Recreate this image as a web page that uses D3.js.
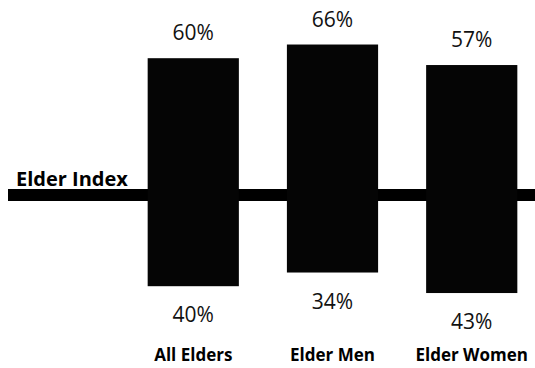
<!DOCTYPE html>
<html>
<head>
<meta charset="utf-8">
<script src="https://cdn.jsdelivr.net/npm/d3@7"></script>
<style>
  html, body { margin: 0; padding: 0; background: #fff; }
  svg { display: block; }
</style>
</head>
<body>
<svg id="chart" width="535" height="368"></svg>
<script>
const categories = ["All Elders", "Elder Men", "Elder Women"];
const aboveValues = [60, 66, 57];
const belowValues = [40, 34, 43];
const aboveLabels = ["60%", "66%", "57%"];
const belowLabels = ["40%", "34%", "43%"];
const baselineLabel = "Elder Index";

const svg = d3.select("#chart");
const W = 535, H = 368;

const x = d3.scaleBand()
  .domain(categories)
  .range([124, 541])
  .paddingInner(0.345)
  .paddingOuter(0.17);

// baseline at y=195, 2.28 px per percent
const y = d3.scaleLinear().domain([-100, 100]).range([195 + 228, 195 - 228]);

// Elder Index line
svg.append("rect")
  .attr("x", 8)
  .attr("y", y(0) - 6)
  .attr("width", W - 8)
  .attr("height", 12)
  .attr("fill", "#000");

svg.append("text")
  .attr("x", 16)
  .attr("y", y(0) - 9)
  .attr("font-family", "'Open Sans', sans-serif")
  .attr("font-weight", 700)
  .attr("font-size", 20)
  .attr("fill", "#000")
  .text(baselineLabel);

const data = categories.map((c, i) => ({
  cat: c, above: aboveValues[i], below: belowValues[i],
  aLabel: aboveLabels[i], bLabel: belowLabels[i]
}));

svg.selectAll("rect.bar")
  .data(data)
  .join("rect")
  .attr("class", "bar")
  .attr("x", d => x(d.cat))
  .attr("width", x.bandwidth())
  .attr("y", d => y(d.above))
  .attr("height", d => y(-d.below) - y(d.above))
  .attr("fill", "#050505");

svg.selectAll("text.top")
  .data(data)
  .join("text")
  .attr("class", "top")
  .attr("x", d => x(d.cat) + x.bandwidth() / 2)
  .attr("y", d => y(d.above) - 18)
  .attr("text-anchor", "middle")
  .attr("font-family", "'Open Sans', sans-serif")
  .attr("font-size", 21)
  .attr("fill", "#111")
  .text(d => d.aLabel);

svg.selectAll("text.bottom")
  .data(data)
  .join("text")
  .attr("class", "bottom")
  .attr("x", d => x(d.cat) + x.bandwidth() / 2)
  .attr("y", d => y(-d.below) + 36)
  .attr("text-anchor", "middle")
  .attr("font-family", "'Open Sans', sans-serif")
  .attr("font-size", 21)
  .attr("fill", "#111")
  .text(d => d.bLabel);

const xAxis = d3.axisBottom(x).tickSize(0).tickPadding(0);
const gx = svg.append("g")
  .attr("transform", `translate(0, ${H - 7})`)
  .call(xAxis);
gx.select(".domain").remove();
gx.selectAll("text")
  .attr("font-family", "'Open Sans', sans-serif")
  .attr("font-weight", 700)
  .attr("font-size", 17)
  .attr("fill", "#000")
  .attr("dy", 0);
</script>
</body>
</html>
